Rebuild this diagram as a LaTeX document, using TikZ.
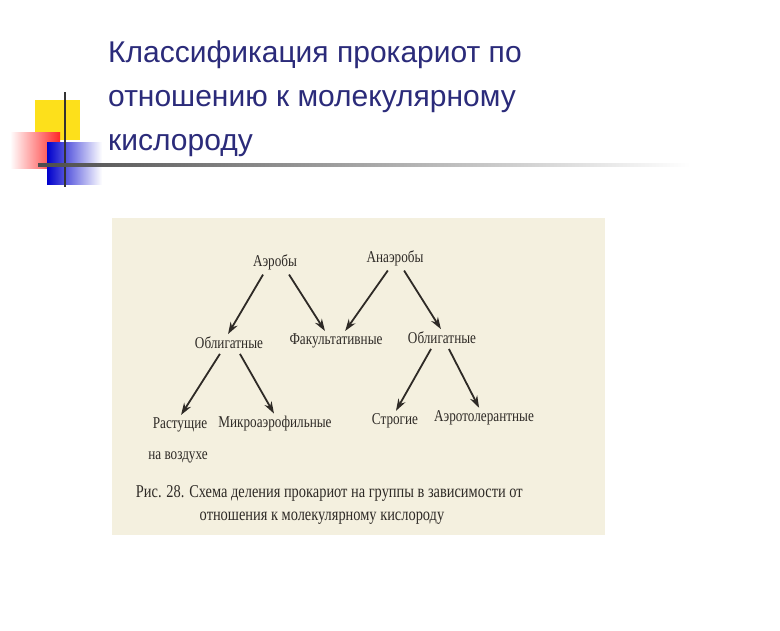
\documentclass[tikz,border=0pt]{standalone}
\usepackage{fontspec}
\setmainfont{Liberation Serif}
\newfontfamily\titlefont{Liberation Sans}
\usetikzlibrary{arrows.meta}
\definecolor{ttl}{HTML}{2B2B7A}
\definecolor{paper}{HTML}{F4F0DF}
\definecolor{ink}{HTML}{2E2A26}
\tikzset{
  lbl/.style={font=\fontsize{16.5}{16}\selectfont, text=ink, inner sep=1pt, xscale=0.8},
  arr/.style={draw=ink, line width=1.8pt, -{Stealth[length=12pt,width=8pt]}, shorten <=2pt, shorten >=2pt},
}
\begin{document}
\begin{tikzpicture}[x=1pt,y=-1pt]
\useasboundingbox (0,0) rectangle (780,630);
\fill[white] (0,0) rectangle (780,630);
% decoration
\fill[yellow!80!orange!90!white] (35,100) rectangle (80,140);
\shade[left color=white, right color=red!85] (10,132) rectangle (60,168);
\shade[left color=blue!80!black, right color=white] (47,142) rectangle (102,184);
\draw[line width=2.4pt, black!80] (65,92) -- (65,187);
\shade[left color=black!70, right color=white] (38,163.8) rectangle (690,166.4);
% title
\node[anchor=base west, font=\titlefont\fontsize{30}{30}\selectfont, text=ttl, inner sep=0] (t1) at (108,62) {Классификация прокариот по};
\node[anchor=base west, font=\titlefont\fontsize{30}{30}\selectfont, text=ttl, inner sep=0] (t2) at (108,106) {отношению к молекулярному};
\node[anchor=base west, font=\titlefont\fontsize{30}{30}\selectfont, text=ttl, inner sep=0] (t3) at (108,150) {кислороду};
% scan
\fill[paper] (112,218) rectangle (605,535);
\node[lbl] (aer) at (275,262) {Аэробы};
\node[lbl] (ana) at (395,258) {Анаэробы};
\node[lbl] (obl1) at (229,343) {Облигатные};
\node[lbl] (fak) at (336,341) {Факультативные};
\node[lbl] (obl2) at (442,338) {Облигатные};
\node[lbl] (ras) at (180,425) {Растущие};
\node[lbl] (vozd) at (178,457) {на воздухе};
\node[lbl] (mik) at (275,424) {Микроаэрофильные};
\node[lbl] (str) at (395,421) {Строгие};
\node[lbl] (aert) at (484,418) {Аэротолерантные};
\node[lbl, font=\fontsize{18}{18}\selectfont, anchor=west] (cap1) at (135,493) {Рис. 28. Схема деления прокариот на группы в зависимости от};
\node[lbl, font=\fontsize{18}{18}\selectfont] (cap2) at (322,518) {отношения к молекулярному кислороду};
\draw[arr] (aer.south west) ++(12,2) -- ([xshift=-2pt]obl1.north);
\draw[arr] (aer.south east) ++(-10,2) -- ([xshift=-10pt]fak.north);
\draw[arr] (ana.south) ++(-6,2) -- ([xshift=8pt]fak.north);
\draw[arr] (ana.south) ++(8,2) -- (obl2.north);
\draw[arr] (obl1.south) ++(-8,2) -- (ras.north);
\draw[arr] (obl1.south) ++(10,2) -- (mik.north);
\draw[arr] (obl2.south) ++(-10,2) -- (str.north);
\draw[arr] (obl2.south) ++(6,2) -- ([xshift=-4pt]aert.north);
\end{tikzpicture}
\end{document}
